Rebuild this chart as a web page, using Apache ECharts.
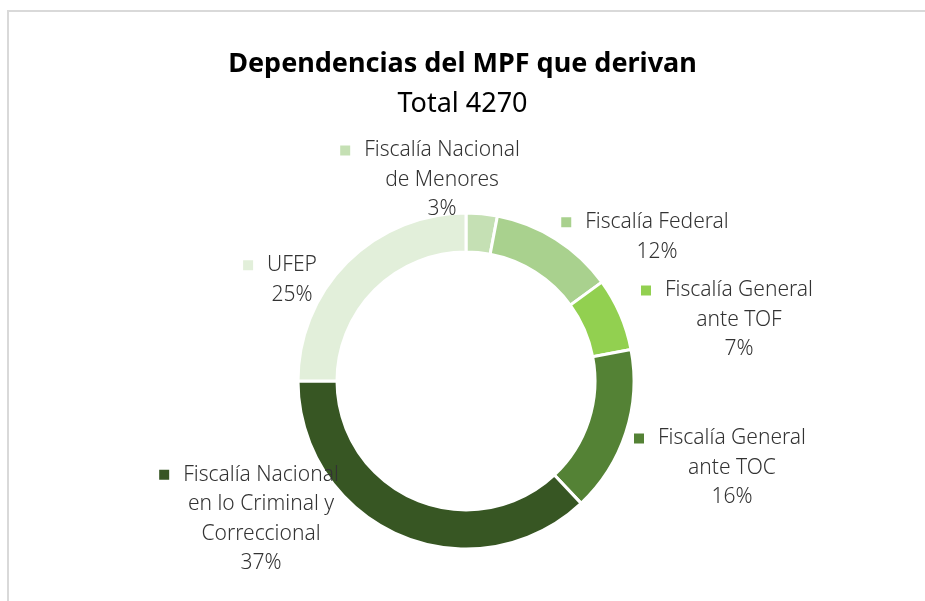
<!DOCTYPE html>
<html>
<head>
<meta charset="utf-8">
<script src="https://cdn.jsdelivr.net/npm/echarts@6/dist/echarts.min.js"></script>
<style>
  html, body { margin: 0; padding: 0; background: #fff; }
  #frame {
    position: absolute; left: 7px; top: 10px; width: 1000px; height: 1000px;
    border-left: 2px solid #d9d9d9; border-top: 2px solid #d9d9d9;
  }
  #main { position: absolute; left: 0; top: 0; width: 925px; height: 601px; }
</style>
</head>
<body>
<div id="frame"></div>
<div id="main"></div>
<script>
// datos: derivaciones por dependencia (total 4270)
var categories = [
  'Fiscalía Nacional\nde Menores',
  'Fiscalía Federal',
  'Fiscalía General\nante TOF',
  'Fiscalía General\nante TOC',
  'Fiscalía Nacional\nen lo Criminal y\nCorreccional',
  'UFEP'
]
var values = [128, 512, 299, 683, 1580, 1068]
var colors = ['#c5e0b4', '#a9d18e', '#92d050', '#548235', '#375623', '#e2efda']

// donde va cada etiqueta (centro del bloque de texto)
var labelPos = [
  [442, 180], [657, 237], [739, 320], [732, 468], [261, 519], [292, 280]
]

var FONT = 'Noto Sans'

var seriesData = categories.map(function (name, i) {
  return {
    name: name,
    value: values[i],
    itemStyle: { color: colors[i] },
    label: {
      rich: {
        m: { width: 10, height: 10, backgroundColor: colors[i] },
        g: { width: 14 },
        sp: { width: 24 }
      }
    }
  }
})

var myChart = echarts.init(document.getElementById('main'))
myChart.setOption({
  animation: false,
  title: {
    text: 'Dependencias del MPF que derivan',
    subtext: 'Total 4270',
    left: 'center',
    top: 46,
    itemGap: 13,
    textStyle: { fontFamily: FONT, fontWeight: 'bold', fontSize: 27, color: '#000' },
    subtextStyle: { fontFamily: FONT, fontWeight: 'normal', fontSize: 27, color: '#000' }
  },
  series: [
    {
      type: 'pie',
      center: [466, 381],
      radius: [129, 168],
      startAngle: 90,
      clockwise: true,
      itemStyle: { borderColor: '#fff', borderWidth: 3 },
      labelLine: { show: false },
      emphasis: { disabled: true },
      label: {
        show: true,
        position: 'outside',
        fontFamily: FONT,
        fontWeight: 300,
        fontSize: 21,
        lineHeight: 29.5,
        color: '#333333',
        align: 'center',
        formatter: function (p) {
          var lines = p.name.split('\n')
          var pct = Math.round(p.percent) + '%'
          var first = '{m|}{g|}' + lines[0] + '{sp|}'
          return [first].concat(lines.slice(1), [pct]).join('\n')
        }
      },
      labelLayout: function (params) {
        var pos = labelPos[params.dataIndex]
        return { x: pos[0], y: pos[1], align: 'center', verticalAlign: 'middle' }
      },
      data: seriesData
    }
  ]
})
</script>
</body>
</html>
